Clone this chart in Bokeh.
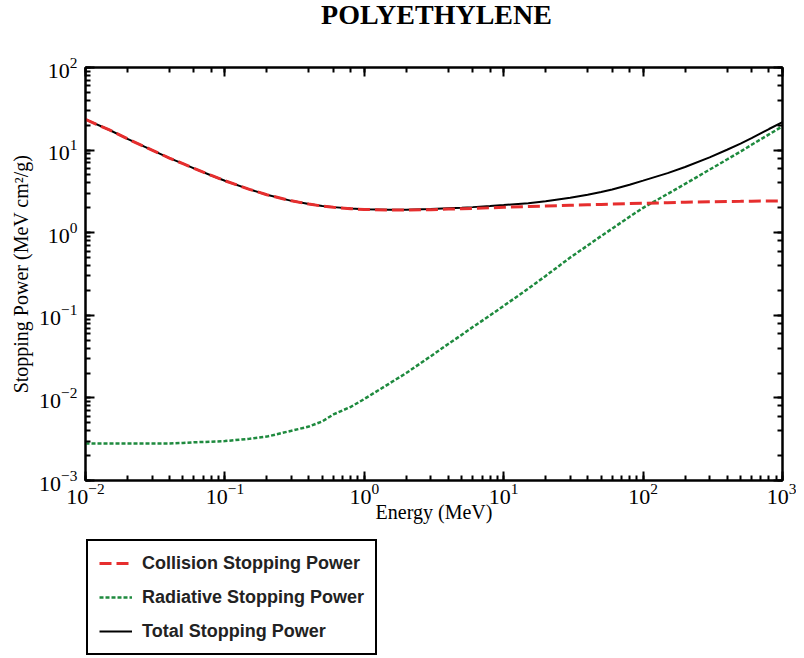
from bokeh.plotting import figure
from bokeh.layouts import column
from bokeh.models import LogAxis, Legend, LegendItem, ColumnDataSource, Range1d, Label
from bokeh.embed import file_html
from bokeh.resources import INLINE

energy = [0.01, 0.015, 0.02, 0.03, 0.04, 0.05, 0.06, 0.08, 0.1, 0.15, 0.2, 0.3, 0.4, 0.5,
          0.6, 0.8, 1, 1.5, 2, 3, 4, 5, 6, 8, 10, 15, 20, 30, 40, 50, 60, 80, 100,
          150, 200, 300, 400, 500, 600, 800, 1000]
collision = [23.5, 17.4, 13.7, 10.0, 8.0, 6.85, 6.0, 4.93, 4.25, 3.35, 2.88, 2.43, 2.22, 2.10,
             2.03, 1.95, 1.91, 1.88, 1.88, 1.90, 1.93, 1.95, 1.97, 2.00, 2.03, 2.07, 2.10, 2.15,
             2.18, 2.20, 2.22, 2.25, 2.27, 2.31, 2.34, 2.37, 2.39, 2.40, 2.41, 2.42, 2.43]
radiative = [0.0028, 0.0028, 0.0028, 0.0028, 0.0028, 0.00285, 0.0029, 0.00295, 0.0030, 0.0032,
             0.0034, 0.0040, 0.0045, 0.0052, 0.0063, 0.0078, 0.0097, 0.0148, 0.020, 0.032,
             0.045, 0.058, 0.072, 0.100, 0.13, 0.21, 0.30, 0.50, 0.70, 0.91, 1.12, 1.56, 2.0,
             2.95, 3.9, 5.8, 7.7, 9.6, 11.6, 15.5, 19.4]
total = [23.5, 17.4, 13.7, 10.0, 8.0, 6.85, 6.0, 4.93, 4.25, 3.35, 2.88, 2.43, 2.22, 2.11,
         2.04, 1.96, 1.92, 1.89, 1.90, 1.93, 1.98, 2.01, 2.04, 2.10, 2.16, 2.28, 2.40, 2.65,
         2.88, 3.11, 3.34, 3.81, 4.27, 5.26, 6.24, 8.17, 10.1, 12.0, 14.0, 18.0, 21.8]

title_text = "POLYETHYLENE"
x_label = "Energy (MeV)"
y_label = "Stopping Power (MeV cm\u00b2/g)"
legend_labels = ["Collision Stopping Power", "Radiative Stopping Power", "Total Stopping Power"]

styles = [dict(line_color="#e62e2e", line_width=3, line_dash="12 5"),
          dict(line_color="#1e8a3e", line_width=2.5, line_dash="4 2"),
          dict(line_color="black", line_width=2)]

W = 796

# ---- title strip (frame aligned with the chart frame) ----
t = figure(width=W, height=40, x_range=Range1d(0, 1), y_range=Range1d(0, 1),
           output_backend="svg", toolbar_location=None,
           min_border_left=0, min_border_right=0, min_border_top=0, min_border_bottom=0)
t.axis.visible = False
t.grid.visible = False
t.outline_line_color = None
t.add_layout(Label(x=351, y=26, x_units="screen", y_units="screen", text=title_text,
                   text_align="center", text_baseline="alphabetic",
                   text_font="Liberation Serif", text_font_size="28px",
                   text_font_style="bold", text_color="black"))

# ---- main chart ----
src = ColumnDataSource(dict(e=energy, c=collision, r=radiative, t=total))

p = figure(width=W, height=493, x_axis_type="log", y_axis_type="log",
           x_range=Range1d(0.01, 1000), y_range=Range1d(0.001, 100),
           output_backend="svg", toolbar_location=None,
           min_border_left=85, min_border_right=14, min_border_top=27, min_border_bottom=53)

p.xgrid.visible = False
p.ygrid.visible = False
p.outline_line_color = "black"
p.outline_line_width = 2

for ax in (p.xaxis[0], p.yaxis[0]):
    ax.axis_line_width = 2
    ax.major_tick_in = 9
    ax.major_tick_out = 0
    ax.minor_tick_in = 5
    ax.minor_tick_out = 0
    ax.major_tick_line_width = 2
    ax.minor_tick_line_width = 2
    ax.major_label_text_font = "Liberation Serif"
    ax.major_label_text_font_size = "22px"
    ax.major_label_text_color = "black"
    ax.axis_label_text_font = "Liberation Serif"
    ax.axis_label_text_font_style = "normal"
    ax.axis_label_text_color = "black"

p.xaxis[0].axis_label = x_label
p.xaxis[0].axis_label_text_font_size = "20px"
p.xaxis[0].axis_label_standoff = -6
p.xaxis[0].major_label_standoff = 3
p.yaxis[0].axis_label = y_label
p.yaxis[0].axis_label_text_font_size = "20px"
p.yaxis[0].axis_label_standoff = 4
p.yaxis[0].major_label_standoff = 8

for loc in ("above", "right"):
    ax = LogAxis(axis_line_width=2, major_tick_in=9, major_tick_out=0, minor_tick_in=5,
                 minor_tick_out=0, major_tick_line_width=2, minor_tick_line_width=2,
                 major_label_text_font_size="2px", major_label_text_color=None,
                 major_label_standoff=0)
    p.add_layout(ax, loc)

r_col = p.line("e", "c", source=src, **styles[0])
r_rad = p.line("e", "r", source=src, **styles[1])
r_tot = p.line("e", "t", source=src, **styles[2])
p.renderers.remove(r_col)
p.renderers.append(r_col)

# ---- legend strip ----
q = figure(width=W, height=125, x_range=Range1d(0, 1), y_range=Range1d(0, 1),
           output_backend="svg", toolbar_location=None,
           min_border_left=0, min_border_right=0, min_border_top=0, min_border_bottom=0)
q.axis.visible = False
q.grid.visible = False
q.outline_line_color = None
items = []
for lab, st in zip(legend_labels, styles):
    rr = q.line([float("nan")], [float("nan")], **st)
    items.append(LegendItem(label=lab, renderers=[rr]))
legend = Legend(items=items, location=(1, 3), orientation="vertical",
                border_line_color="black", border_line_width=2, border_line_alpha=1,
                label_text_font="Liberation Sans", label_text_font_style="bold",
                label_text_font_size="18px", label_text_color="#222222",
                glyph_width=33, glyph_height=22, label_height=22,
                spacing=12, padding=11, margin=0, label_standoff=10)
q.add_layout(legend, "center")

layout = column(t, p, q, spacing=0)
open("out.html", "w").write(file_html(layout, INLINE))
